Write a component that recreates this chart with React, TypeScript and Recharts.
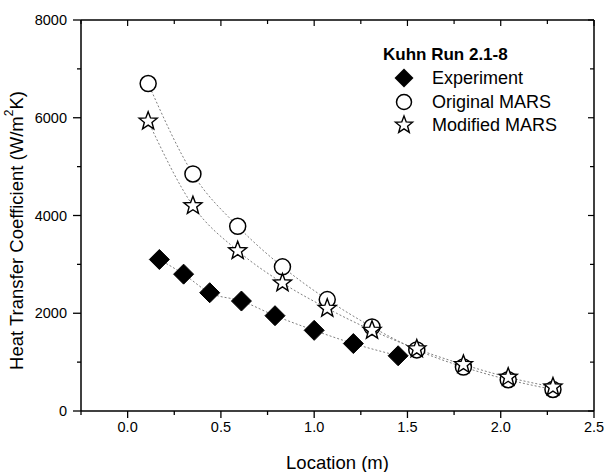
import React from 'react';
import { ComposedChart, Line, XAxis, YAxis } from 'recharts';

// ---- data ----
const experimentX = [0.17, 0.30, 0.44, 0.61, 0.79, 1.00, 1.21, 1.45];
const experimentY = [3100, 2800, 2420, 2250, 1950, 1650, 1380, 1130];

const marsX = [0.11, 0.35, 0.59, 0.83, 1.07, 1.31, 1.55, 1.80, 2.04, 2.28];
const originalY = [6700, 4850, 3780, 2950, 2280, 1720, 1250, 900, 640, 440];
const modifiedY = [5930, 4200, 3280, 2620, 2100, 1650, 1270, 950, 690, 490];

const xTicks = [-0.25, 0, 0.25, 0.5, 0.75, 1.0, 1.25, 1.5, 1.75, 2.0, 2.25, 2.5];
const xLabels = ['0.0', '0.5', '1.0', '1.5', '2.0', '2.5'];
const yTicks = [0, 1000, 2000, 3000, 4000, 5000, 6000, 7000, 8000];
const yLabels = ['0', '2000', '4000', '6000', '8000'];

const legendTitle = 'Kuhn Run 2.1-8';
const seriesNames = ['Experiment', 'Original MARS', 'Modified MARS'];

const toPoints = (xs: number[], ys: number[]) => xs.map((x, i) => ({ x, y: ys[i] }));
const experimentData = toPoints(experimentX, experimentY);
const originalData = toPoints(marsX, originalY);
const modifiedData = toPoints(marsX, modifiedY);

const FONT = '"Liberation Sans", Arial, Helvetica, sans-serif';

const fmtX = (v: number) => v.toFixed(1);

// ---- marker shapes ----
const diamondPath = (cx: number, cy: number, r: number) =>
  `M${cx},${cy - r}L${cx + r},${cy}L${cx},${cy + r}L${cx - r},${cy}Z`;

const starPath = (cx: number, cy: number, R: number, r: number) => {
  let d = '';
  for (let i = 0; i < 10; i++) {
    const rad = i % 2 === 0 ? R : r;
    const a = -Math.PI / 2 + (i * Math.PI) / 5;
    d += (i === 0 ? 'M' : 'L') + (cx + rad * Math.cos(a)).toFixed(2) + ',' + (cy + rad * Math.sin(a)).toFixed(2);
  }
  return d + 'Z';
};

const DiamondDot = (p: any) =>
  p.cx == null ? null : <path key={p.key} d={diamondPath(p.cx, p.cy, 10)} fill="#000" stroke="#000" strokeWidth={1} />;
const CircleDot = (p: any) =>
  p.cx == null ? null : <circle key={p.key} cx={p.cx} cy={p.cy} r={8} fill="#fff" stroke="#000" strokeWidth={1.5} />;
const StarDot = (p: any) =>
  p.cx == null ? null : <path key={p.key} d={starPath(p.cx, p.cy, 9.5, 4)} fill="#fff" stroke="#000" strokeWidth={1.4} />;

// ---- ticks ----
const isMajorX = (v: number) => Math.abs(v * 2 - Math.round(v * 2)) < 1e-6 && v >= 0;
const isMajorY = (v: number) => v % 2000 === 0;

const BottomTick = (p: any) => {
  const v = p.payload.value;
  const major = isMajorX(v);
  const len = major ? 7 : 4;
  const lbl = fmtX(v);
  return (
    <g>
      <line x1={p.x} x2={p.x} y1={p.y} y2={p.y + len} stroke="#000" strokeWidth={1.3} />
      {major && xLabels.includes(lbl) && (
        <text x={p.x} y={p.y + 16} dy="0.36em" textAnchor="middle" fontSize={14.5} fontFamily={FONT} fill="#000">
          {lbl}
        </text>
      )}
    </g>
  );
};

const TopTick = (p: any) => {
  const v = p.payload.value;
  const len = isMajorX(v) ? 6 : 4;
  return <line x1={p.x} x2={p.x} y1={p.y} y2={p.y + len} stroke="#000" strokeWidth={1.2} />;
};

const LeftTick = (p: any) => {
  const v = p.payload.value;
  const major = isMajorY(v);
  const len = major ? 8 : 4;
  return (
    <g>
      <line x1={p.x} x2={p.x - len} y1={p.y} y2={p.y} stroke="#000" strokeWidth={1.3} />
      {major && yLabels.includes(String(v)) && (
        <text x={p.x - 14} y={p.y} dy="0.36em" textAnchor="end" fontSize={14.5} fontFamily={FONT} fill="#000">
          {String(v)}
        </text>
      )}
    </g>
  );
};

const RightTick = (p: any) => {
  const v = p.payload.value;
  const len = isMajorY(v) ? 6 : 4;
  return <line x1={p.x} x2={p.x - len} y1={p.y} y2={p.y} stroke="#000" strokeWidth={1.2} />;
};

const YLabel = (p: any) => {
  const vb = p.viewBox || { x: 0, y: 0, height: 0 };
  const cx = 16;
  const cy = vb.y + vb.height / 2 + 15;
  return (
    <text
      x={cx}
      y={cy}
      transform={`rotate(-90, ${cx}, ${cy})`}
      textAnchor="middle"
      dominantBaseline="central"
      fontSize={18.5}
      fontFamily={FONT}
      fill="#000"
    >
      Heat Transfer Coefficient (W/m
      <tspan fontSize={12} dy={-7}>2</tspan>
      <tspan dy={7}>K)</tspan>
    </text>
  );
};

const XLabel = (p: any) => {
  const vb = p.viewBox || { x: 0, y: 0, width: 0 };
  return (
    <text x={vb.x + vb.width / 2} y={462} textAnchor="middle" dominantBaseline="central" fontSize={18.5} fontFamily={FONT} fill="#000">
      Location (m)
    </text>
  );
};

const lineStroke = '#808080';
const legendRowsY = [78, 101.5, 125];

export default function App() {
  return (
    <div style={{ position: 'absolute', left: 0, top: 0, width: 606, height: 472, background: '#fff' }}>
      <ComposedChart width={606} height={472} margin={{ top: 0, right: 0, bottom: 0, left: 0 }}>
        <XAxis
          xAxisId="b"
          type="number"
          dataKey="x"
          domain={[-0.25, 2.5]}
          ticks={xTicks}
          allowDataOverflow
          height={61}
          tickLine={false}
          tickSize={0}
          tickMargin={0}
          tick={BottomTick}
          interval={0}
          axisLine={{ stroke: '#000', strokeWidth: 1.5 }}
          label={XLabel}
        />
        <XAxis
          xAxisId="t"
          orientation="top"
          type="number"
          dataKey="x"
          domain={[-0.25, 2.5]}
          ticks={xTicks}
          allowDataOverflow
          height={20}
          tickLine={false}
          tickSize={0}
          tickMargin={0}
          tick={TopTick}
          interval={0}
          axisLine={{ stroke: '#000', strokeWidth: 1.5 }}
        />
        <YAxis
          yAxisId="l"
          type="number"
          domain={[0, 8000]}
          ticks={yTicks}
          allowDataOverflow
          width={81}
          tickLine={false}
          tickSize={0}
          tickMargin={0}
          tick={LeftTick}
          interval={0}
          axisLine={{ stroke: '#000', strokeWidth: 1.5 }}
          label={YLabel}
        />
        <YAxis
          yAxisId="r"
          orientation="right"
          type="number"
          domain={[0, 8000]}
          ticks={yTicks}
          allowDataOverflow
          width={12}
          tickLine={false}
          tickSize={0}
          tickMargin={0}
          tick={RightTick}
          interval={0}
          axisLine={{ stroke: '#000', strokeWidth: 1.5 }}
        />
        <Line
          xAxisId="b"
          yAxisId="l"
          data={experimentData}
          dataKey="y"
          name={seriesNames[0]}
          type="monotone"
          stroke={lineStroke}
          strokeWidth={1}
          strokeDasharray="2 2"
          dot={DiamondDot}
          activeDot={false}
          isAnimationActive={false}
        />
        <Line
          xAxisId="b"
          yAxisId="l"
          data={originalData}
          dataKey="y"
          name={seriesNames[1]}
          type="monotone"
          stroke={lineStroke}
          strokeWidth={1}
          strokeDasharray="2 2"
          dot={CircleDot}
          activeDot={false}
          isAnimationActive={false}
        />
        <Line
          xAxisId="b"
          yAxisId="l"
          data={modifiedData}
          dataKey="y"
          name={seriesNames[2]}
          type="monotone"
          stroke={lineStroke}
          strokeWidth={1}
          strokeDasharray="2 2"
          dot={StarDot}
          activeDot={false}
          isAnimationActive={false}
        />
      </ComposedChart>
      <div
        style={{
          position: 'absolute',
          left: 383,
          top: 45,
          height: 20,
          lineHeight: '20px',
          fontFamily: FONT,
          fontWeight: 'bold',
          fontSize: 17,
          color: '#000',
          whiteSpace: 'nowrap',
        }}
      >
        {legendTitle}
      </div>
      {seriesNames.map((name, i) => (
        <div
          key={name}
          style={{ position: 'absolute', left: 392, top: legendRowsY[i] - 12, height: 24, display: 'flex', alignItems: 'center', fontFamily: FONT, fontSize: 18, color: '#000', whiteSpace: 'nowrap' }}
        >
          <svg width={24} height={24} style={{ display: 'block' }}>
            {i === 0 && <path d={diamondPath(12, 12, 9.5)} fill="#000" />}
            {i === 1 && <circle cx={12} cy={12} r={7.5} fill="#fff" stroke="#000" strokeWidth={1.5} />}
            {i === 2 && <path d={starPath(12, 12, 9, 3.8)} fill="#fff" stroke="#000" strokeWidth={1.4} />}
          </svg>
          <span style={{ marginLeft: 16, lineHeight: '24px' }}>{name}</span>
        </div>
      ))}
    </div>
  );
}
